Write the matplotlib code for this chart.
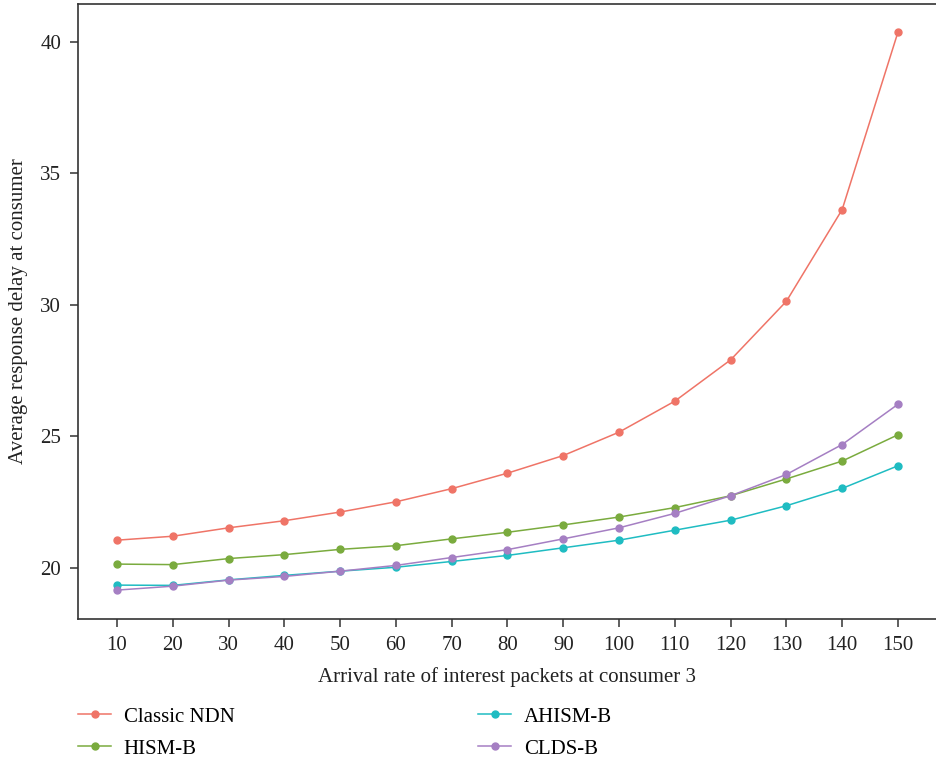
import numpy as np
import matplotlib
matplotlib.use('Agg')
import matplotlib.pyplot as plt

plt.rcParams['font.family'] = ['Liberation Serif', 'DejaVu Serif']

# arrival rate at consumer 3
rate = [10, 20, 30, 40, 50, 60, 70, 80, 90, 100, 110, 120, 130, 140, 150]

classic_ndn = [21.04, 21.19, 21.51, 21.78, 22.11, 22.50, 23.00, 23.59, 24.26, 25.15,
               26.33, 27.90, 30.13, 33.62, 40.37]
hism_b = [20.13, 20.11, 20.34, 20.49, 20.69, 20.83, 21.09, 21.34, 21.62, 21.92,
          22.28, 22.73, 23.37, 24.05, 25.05]
ahism_b = [19.33, 19.32, 19.53, 19.70, 19.86, 20.01, 20.23, 20.46, 20.75, 21.04,
           21.42, 21.80, 22.35, 23.01, 23.87]
clds_b = [19.14, 19.29, 19.52, 19.66, 19.86, 20.08, 20.38, 20.68, 21.09, 21.51,
          22.06, 22.73, 23.54, 24.68, 26.21]

series = [('Classic NDN', classic_ndn, '#EF7467'),
          ('HISM-B', hism_b, '#7AAB3E'),
          ('AHISM-B', ahism_b, '#1FBCC2'),
          ('CLDS-B', clds_b, '#A57FC3')]

fig = plt.figure(figsize=(9.37, 7.6), dpi=100)
ax = fig.add_axes([0.0832, 0.1855, 0.9168, 0.8092])

lines = []
for name, vals, col in series:
    l, = ax.plot(rate, vals, '-o', color=col, lw=1.1, ms=5, label=name)
    lines.append(l)

ax.set_xlim(3, 157)
ax.set_ylim(18.04, 41.44)
ax.set_xticks(rate)
ax.set_yticks([20, 25, 30, 35, 40])

for s in ['left', 'bottom', 'top']:
    ax.spines[s].set_color('#333333')
    ax.spines[s].set_linewidth(1.2)
ax.spines['right'].set_visible(False)
ax.tick_params(direction='out', length=6, width=1.1, color='#333333',
               labelsize=15, labelcolor='#222222', pad=6)

ax.set_xlabel('Arrival rate of interest packets at consumer 3', fontsize=15,
              color='#222222', labelpad=9)
ax.set_ylabel('Average response delay at consumer', fontsize=15,
              color='#222222', labelpad=9)

# legend in two columns under the plot
leg_kw = dict(frameon=False, fontsize=15, handlelength=1.6, handletextpad=0.6,
              labelspacing=0.6, borderaxespad=0, borderpad=0)
fig.legend(lines[:2], [s[0] for s in series[:2]], loc='upper left',
           bbox_to_anchor=(78 / 937, 1 - 707 / 760), **leg_kw)
fig.legend(lines[2:], [s[0] for s in series[2:]], loc='upper left',
           bbox_to_anchor=(478 / 937, 1 - 707 / 760), **leg_kw)

fig.savefig('out.png', dpi=100)
